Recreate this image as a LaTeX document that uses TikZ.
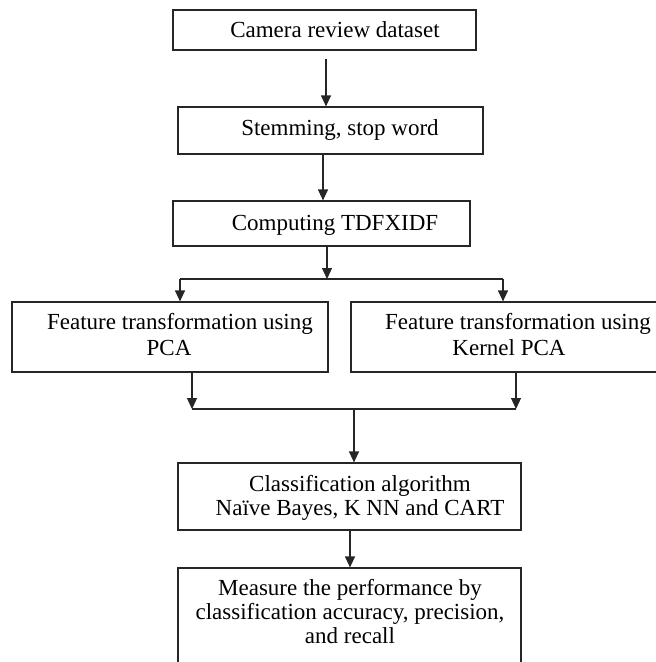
\documentclass[tikz,border=0pt]{standalone}
\usepackage{fontspec}
\setmainfont{Liberation Serif}
\usetikzlibrary{arrows.meta}

\begin{document}
\begin{tikzpicture}[x=1pt,y=-1pt,
  box/.style={draw=black!85, line width=1.2pt, rectangle, inner sep=0pt},
  txt/.style={inner sep=0pt, align=center, anchor=base, text=black,
              font=\fontsize{23}{25}\selectfont},
  link/.style={draw=black!85, line width=1.2pt},
  arr/.style={link, -{Triangle[width=10pt,length=11pt]}}]

\useasboundingbox (0,0) rectangle (656,662);
\clip (0,0) rectangle (656,662);

% boxes
\node[box, minimum width=303pt, minimum height=40pt]  (b1) at (324.5,30)  {};
\node[box, minimum width=305pt, minimum height=47pt]  (b2) at (330.5,130.5) {};
\node[box, minimum width=297pt, minimum height=45pt]  (b3) at (321.5,223.5) {};
\node[box, minimum width=316pt, minimum height=70pt]  (b4) at (170,337)   {};
\node[box, minimum width=319pt, minimum height=70pt]  (b5) at (510.5,337) {};
\node[box, minimum width=343pt, minimum height=67pt]  (b6) at (349.5,496.5) {};
\node[box, minimum width=343pt, minimum height=112pt] (b7) at (349.5,624) {};

% labels (base anchor sits on the last line)
\node[txt] (t1) at (335,37)  {Camera review dataset};
\node[txt] (t2) at (340,135) {Stemming, stop word};
\node[txt] (t3) at (335,230) {Computing TDFXIDF};
\node[txt, font=\fontsize{23}{26}\selectfont] (t4) at (180,355)
  {Feature transformation using\\PCA\hspace*{22pt}};
\node[txt, font=\fontsize{23}{26}\selectfont] (t5) at (518,355)
  {Feature transformation using\\Kernel PCA\hspace*{18pt}};
\node[txt, font=\fontsize{23}{24}\selectfont] (t6) at (360,515)
  {Classification algorithm\\Naïve Bayes, K NN and CART};
\node[txt, font=\fontsize{23}{24}\selectfont] (t7) at (350,643)
  {Measure the performance by\\classification accuracy, precision,\\and recall};

% junction points
\coordinate (c12) at (326,80);
\coordinate (c23) at (323,180);
\coordinate (s1) at (327,279);
\coordinate (sl) at (180,279);
\coordinate (sr) at (503,279);
\coordinate (ml) at (192,409);
\coordinate (mr) at (516,409);
\coordinate (mc) at (354,409);
\coordinate (c67) at (350,550);

% connectors
\draw[arr, shorten <=8pt] (b1.south -| c12) -- (b2.north -| c12);
\draw[arr] (b2.south -| c23) -- (b3.north -| c23);
\draw[arr] (b3.south -| s1) -- (s1);
\draw[link] (sl) -- (sr);
\draw[arr] (sl) -- (b4.north -| sl);
\draw[arr] (sr) -- (b5.north -| sr);
\draw[arr] (b4.south -| ml) -- (ml);
\draw[arr] (b5.south -| mr) -- (mr);
\draw[link] (ml) -- (mr);
\draw[arr] (mc) -- (b6.north -| mc);
\draw[arr] (b6.south -| c67) -- (b7.north -| c67);
\end{tikzpicture}
\end{document}
